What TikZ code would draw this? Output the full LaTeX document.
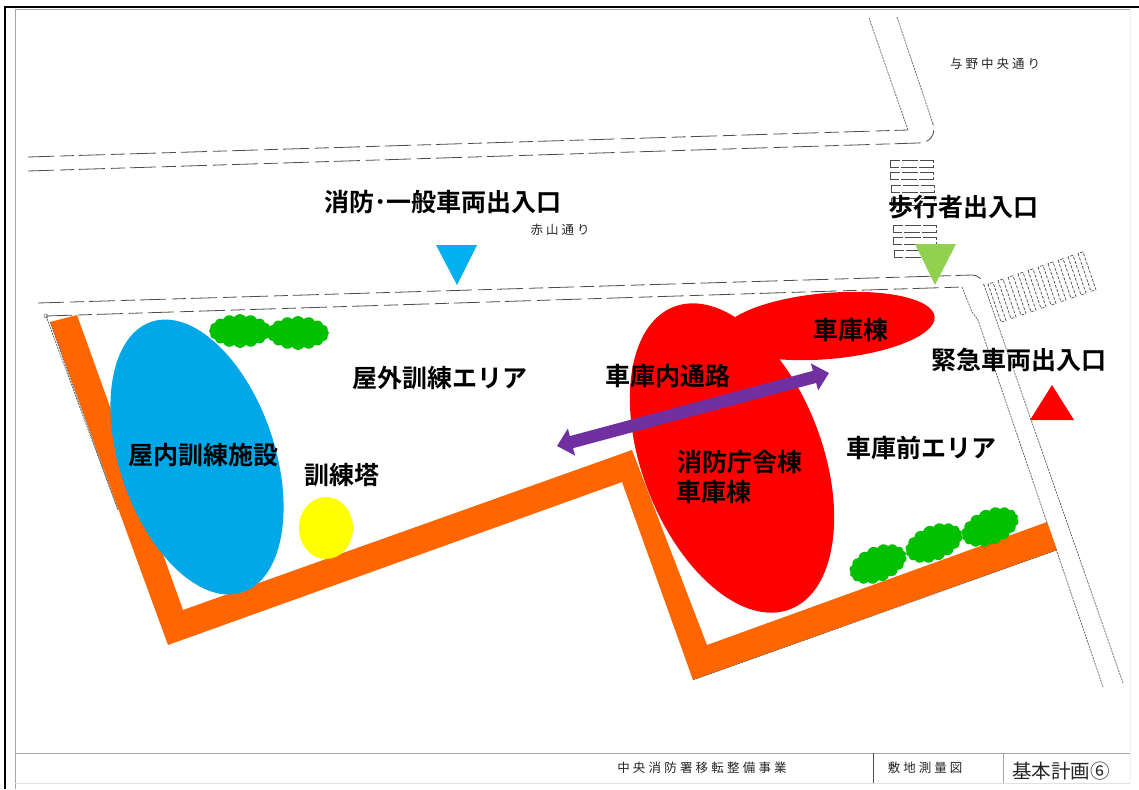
\documentclass[tikz,border=0pt]{standalone}
\usepackage{fontspec}
\usetikzlibrary{shapes.symbols,arrows.meta}
\newfontfamily\cjk{Noto Sans CJK JP}
\newfontfamily\cjkb{Noto Sans CJK JP Bold}
\definecolor{orng}{HTML}{FF6600}
\definecolor{skyb}{HTML}{00A8E8}
\definecolor{triblue}{HTML}{00B0F0}
\definecolor{trigreen}{HTML}{92D050}
\definecolor{purp}{HTML}{7030A0}
\definecolor{shrubc}{HTML}{00C000}
\definecolor{yell}{HTML}{FFFF00}
\definecolor{redd}{HTML}{FF0000}
\tikzset{
  roadline/.style={line width=0.8pt,draw=black!70,dash pattern=on 26pt off 6pt on 14pt off 5pt},
  dotline/.style={line width=0.7pt,draw=black!65,dash pattern=on 2pt off 1pt},
  stripe/.style={line width=0.7pt,draw=black!70,dash pattern=on 16pt off 2pt},
  frameg/.style={line width=1pt,draw=black!35},
  big/.style={font=\cjkb\fontsize{25}{27}\selectfont,inner sep=0pt,text=black},
  small/.style={font=\cjk\fontsize{12.5}{14}\selectfont,inner sep=0pt,text=black!85},
  shrub/.style={shape=cloud,cloud puffs=16,cloud puff arc=110,fill=shrubc,inner sep=0pt,aspect=1.6},
}
\begin{document}
\begin{tikzpicture}[x=1pt,y=-1pt]
\useasboundingbox (0,0) rectangle (1139,789);
\fill[white] (0,0) rectangle (1139,789);
% frame
\draw[line width=2pt,black] (5,789) -- (5,7) -- (1139,7);
\draw[frameg] (15,789) -- (15,10) -- (1130,10);
\draw[line width=0.6pt,draw=black!6] (1130,10) -- (1130,783);
\draw[frameg] (15,753) -- (1130,753);
\draw[line width=0.8pt,draw=black!12] (15,783) -- (1130,783);
\draw[line width=1pt,black!70] (873,753) -- (873,783);
\draw[frameg] (1003,753) -- (1003,783);
% roads
\draw[roadline] (28,157) -- (908,130);
\draw[dotline] (908,130) -- (869,18);
\draw[roadline] (28,171) -- (918,143) .. controls (930,143) and (936,135) .. (933,124);
\draw[dotline] (933,124) -- (897,17);
\draw[roadline] (38,303) -- (972,275) .. controls (978,275) and (982,279) .. (984,285);
\draw[dotline] (984,285) -- (1123,683);
\draw[roadline] (46,316) -- (962,287);
\draw[dotline] (962,287) -- (972,312) -- (978,320) -- (1103,687);
\draw[dotline] (46,316) -- (118,510);
\draw[draw=black!60,line width=0.5pt] (46,316) circle (2pt);
% crosswalk (vertical road)
\foreach \yy/\xx in {160/890,172/890,185/891,198/891,225/893,237/893,250/894}
  \draw[stripe] (\xx,\yy) rectangle ++(43,7);
% crosswalk (diagonal)
\foreach \i in {0,...,9}
  \draw[stripe,dash pattern=on 3pt off 1.5pt]
    (988+\i*10,284-\i*3.4) -- (1001+\i*10,322-\i*3.4) -- (1006+\i*10,320.5-\i*3.4) -- (993+\i*10,282.5-\i*3.4) -- cycle;
% orange wall
\fill[orng] (50,322) -- (77,315) -- (183,610) -- (632,450) -- (707,645) -- (1047,522) -- (1057,550) -- (693,680) -- (622,482) -- (168,645) -- cycle;
\draw[dotline,line width=0.5pt] (50,322) -- (118,510);
\draw[dotline,line width=0.5pt] (693,680) -- (1057,550);
% shapes
\fill[skyb] (197,457) ellipse [x radius=77.6pt,y radius=142.7pt,rotate=18.7];
\fill[yell] (326,528) ellipse [x radius=27pt,y radius=31pt];
\fill[redd] (732,458) ellipse [x radius=90pt,y radius=162pt,rotate=21];
\fill[redd] (828,326) ellipse [x radius=107pt,y radius=33pt,rotate=5];
% shrubs
\node[shrub,minimum width=62pt,minimum height=34pt] (s1) at (240,331) {};
\node[shrub,minimum width=62pt,minimum height=34pt] (s2) at (298,333) {};
\node[shrub,minimum width=60pt,minimum height=36pt,rotate=22] (s3) at (878,564) {};
\node[shrub,minimum width=60pt,minimum height=36pt,rotate=22] (s4) at (934,543) {};
\node[shrub,minimum width=60pt,minimum height=36pt,rotate=22] (s5) at (990,527) {};
% double arrow
\coordinate (arrowA) at (557,446);
\coordinate (arrowB) at (829,373);
\draw[purp,line width=12.5pt,{Triangle[length=15pt,width=27pt]}-{Triangle[length=15pt,width=27pt]}] (arrowA) -- (arrowB);
% triangles
\fill[triblue] (436,245) -- (477,245) -- (457,285) -- cycle;
\fill[trigreen] (915,244) -- (956,244) -- (935,285) -- cycle;
\fill[redd] (1030,420) -- (1074,420) -- (1052,385) -- cycle;
% labels
\node[big] (t1) at (443,202) {消防･一般車両出入口};
\node[big] (t2) at (963,207) {歩行者出入口};
\node[big] (t3) at (1019,360) {緊急車両出入口};
\node[big] (t4) at (851,330) {車庫棟};
\node[big] (t5) at (440,378) {屋外訓練エリア};
\node[big] (t6) at (668,376) {車庫内通路};
\node[big] (t7) at (203,455) {屋内訓練施設};
\node[big] (t8) at (342,475) {訓練塔};
\node[big] (t9) at (740,462) {消防庁舎棟};
\node[big] (t10) at (714,492) {車庫棟};
\node[big] (t11) at (921,448) {車庫前エリア};
\node[small] (t12) at (995,64) {与\hspace{3pt}野\hspace{3pt}中\hspace{3pt}央\hspace{3pt}通\hspace{3pt}り};
\node[small] (t13) at (560,230) {赤\hspace{3pt}山\hspace{3pt}通\hspace{3pt}り};
\node[small] (t14) at (702,768) {中\hspace{3.2pt}央\hspace{3.2pt}消\hspace{3.2pt}防\hspace{3.2pt}署\hspace{3.2pt}移\hspace{3.2pt}転\hspace{3.2pt}整\hspace{3.2pt}備\hspace{3.2pt}事\hspace{3.2pt}業};
\node[small] (t15) at (925,768) {敷\hspace{3pt}地\hspace{3pt}測\hspace{3pt}量\hspace{3pt}図};
\node[font=\cjk\fontsize{19.5}{21}\selectfont,inner sep=0pt,text=black!85] (t16) at (1061,771) {基本計画⑥};
\end{tikzpicture}
\end{document}
